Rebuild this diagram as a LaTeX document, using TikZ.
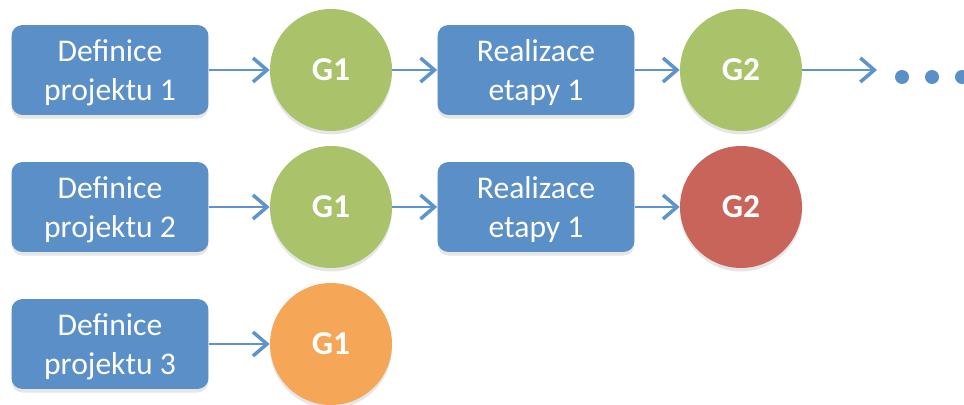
\documentclass[tikz,border=0pt]{standalone}
\usepackage{fontspec}
\setmainfont{Carlito}
\usepackage{tikz}
\usepackage{xcolor}
\usetikzlibrary{arrows.meta, positioning, shadows}
\definecolor{stepblue}{HTML}{5B8FC7}
\definecolor{gategreen}{HTML}{AAC26A}
\definecolor{gatered}{HTML}{C9645A}
\definecolor{gateorange}{HTML}{F6A657}
\definecolor{linkblue}{HTML}{5F93CB}

\begin{document}
\begin{tikzpicture}[
  x=0.02cm, y=-0.02cm,
  phase/.style={rectangle, fill=stepblue, rounded corners=0.22cm, minimum width=3.94cm, minimum height=1.8cm, align=center, text depth=0pt, text=white, font=\fontsize{18}{22}\selectfont, drop shadow={shadow xshift=0pt, shadow yshift=-2pt, opacity=0.2}},
  gate/.style={circle, minimum size=2.44cm, inner sep=0pt, text=white, font=\fontsize{19}{22}\selectfont\bfseries, drop shadow={shadow xshift=0pt, shadow yshift=-2pt, opacity=0.2}},
  dot/.style={circle, fill=stepblue, minimum size=0.28cm, inner sep=0pt},
  arrow/.style={-{Straight Barb[length=2.8mm, width=4.8mm, line width=2pt]}, draw=linkblue, line width=1.3pt}
]
  \useasboundingbox (0,0) rectangle (964,405);

  % Project 1
  \node[phase] (def1) at (110,70) {Definice\\projektu 1};
  \node[gate, fill=gategreen] (g11) at (331,70) {G1};
  \node[phase] (real1) at (536,70) {Realizace\\etapy 1};
  \node[gate, fill=gategreen] (g12) at (741,70) {G2};
  \coordinate (more) at (877,70);
  \node[dot] (d1) at (902,77) {};
  \node[dot] (d2) at (932,77) {};
  \node[dot] (d3) at (962,77) {};

  % Project 2
  \node[phase] (def2) at (110,207) {Definice\\projektu 2};
  \node[gate, fill=gategreen] (g21) at (331,207) {G1};
  \node[phase] (real2) at (536,207) {Realizace\\etapy 1};
  \node[gate, fill=gatered] (g22) at (741,207) {G2};

  % Project 3
  \node[phase] (def3) at (110,344) {Definice\\projektu 3};
  \node[gate, fill=gateorange] (g31) at (331,344) {G1};

  % Arrows
  \draw[arrow] (def1) -- (g11);
  \draw[arrow] (g11) -- (real1);
  \draw[arrow] (real1) -- (g12);
  \draw[arrow] (g12) -- (more);
  \draw[arrow] (def2) -- (g21);
  \draw[arrow] (g21) -- (real2);
  \draw[arrow] (real2) -- (g22);
  \draw[arrow] (def3) -- (g31);
\end{tikzpicture}
\end{document}
